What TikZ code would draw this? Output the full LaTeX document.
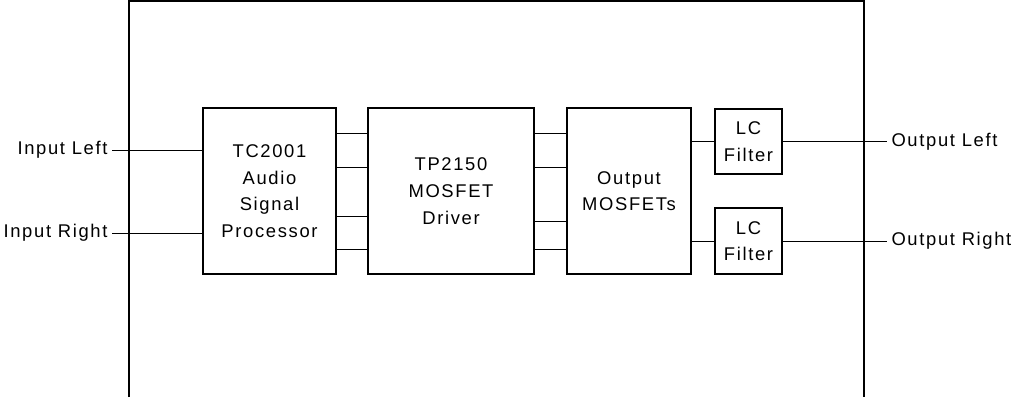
\documentclass[tikz,border=0pt]{standalone}
\usepackage{fontspec}
\setmainfont[LetterSpace=9]{Liberation Sans}
\usepackage{tikz}
\tikzset{every picture/.style={line width=0.75pt}}
\tikzset{
  blk/.style={draw, line width=1.5pt, align=center, inner sep=0pt, font=\fontsize{13.8}{20}\selectfont},
  lbl/.style={inner sep=3pt, font=\fontsize{13.8}{16}\selectfont},
}

\begin{document}
\begin{tikzpicture}[x=0.75pt,y=0.75pt,yscale=-1,xscale=1]
\useasboundingbox (0,0) rectangle (1017,397);

%Shape: Open frame
\draw [line width=1.5pt] (129,397) -- (129,1) -- (864,1) -- (864,397) ;

%Blocks
\node [blk, minimum width=99.75pt, minimum height=124.5pt] (proc) at (269.5,191) {TC2001\\Audio\\Signal\\Processor};
\node [blk, minimum width=124.5pt, minimum height=124.5pt] (drv) at (451,191) {TP2150\\MOSFET\\Driver};
\node [blk, minimum width=93pt, minimum height=124.5pt] (outm) at (629,191) {Output\\MOSFETs};
\node [blk, minimum width=50.25pt, minimum height=48.75pt] (lcl) at (748.5,141.5) {LC\\Filter};
\node [blk, minimum width=50.25pt, minimum height=49.5pt] (lcr) at (748.5,241) {LC\\Filter};

%Text Nodes
\node [lbl, anchor=east] (inl) at (112,150) {Input Left};
\node [lbl, anchor=east] (inr) at (112,233) {Input Right};
\node [lbl, anchor=west] (outl) at (887,141.5) {Output Left};
\node [lbl, anchor=west] (outr) at (887,241) {Output Right};

%Straight Lines
\draw (inl.east) -- (proc.west |- inl.east) ;
\draw (inr.east) -- (proc.west |- inr.east) ;
\foreach \y in {133,167,216,249}
  \draw (proc.east |- 0,\y) -- (drv.west |- 0,\y) ;
\foreach \y in {133,167,221,249}
  \draw (drv.east |- 0,\y) -- (outm.west |- 0,\y) ;
\draw (outm.east |- lcl.west) -- (lcl.west) ;
\draw (outm.east |- lcr.west) -- (lcr.west) ;
\draw (lcl.east) -- (outl.west) ;
\draw (lcr.east) -- (outr.west) ;

\end{tikzpicture}
\end{document}
